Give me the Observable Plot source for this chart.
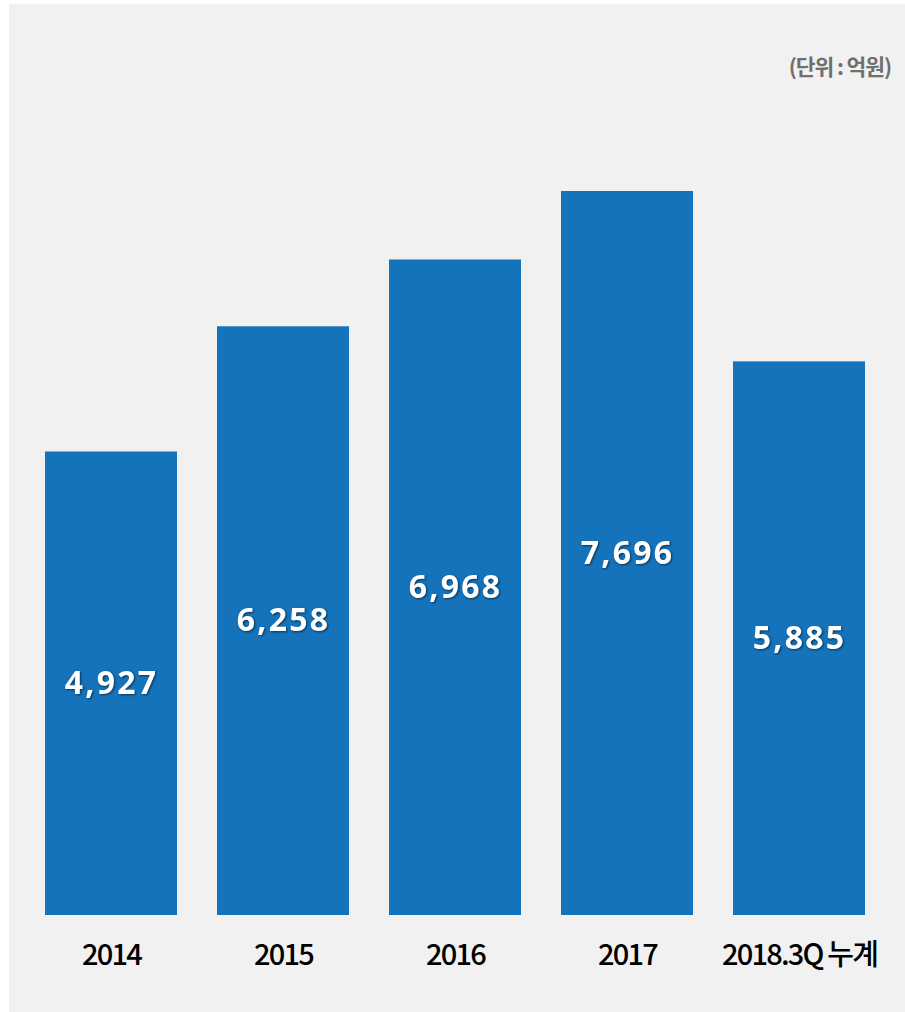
<!DOCTYPE html>
<html>
<head>
<meta charset="utf-8">
<script src="https://cdn.jsdelivr.net/npm/d3@7"></script>
<script src="https://cdn.jsdelivr.net/npm/@observablehq/plot@0.6"></script>
<style>
  html, body { margin: 0; padding: 0; background: #ffffff; }
  #panel { position: absolute; left: 9px; top: 4px; width: 896px; height: 1008px; background: #f1f1f1; overflow: hidden; }
  #unit { position: relative; height: 90px; }
  #unit span { position: absolute; right: 14px; top: 46px; font-family: "Noto Sans CJK KR", "Noto Sans", sans-serif; font-weight: 700; font-size: 21.5px; letter-spacing: -1.1px; color: #6f6f6f; }
  #chart svg { display: block; }
  #chart g[aria-label="text"] text { filter: drop-shadow(1.5px 1.5px 1px rgba(0,0,0,0.55)); }
</style>
</head>
<body>
<div id="panel">
  <div id="unit"><span id="unitText"></span></div>
  <div id="chart"></div>
</div>
<script>
const categories = ["2014", "2015", "2016", "2017", "2018.3Q 누계"];
const values = [4927, 6258, 6968, 7696, 5885];
const unitLabel = "(단위 : 억원)";

document.getElementById("unitText").textContent = unitLabel;

const data = categories.map((c, i) => ({category: c, value: values[i]}));

const chart = Plot.plot({
  width: 896,
  height: 918,
  marginTop: 97,
  marginBottom: 97,
  marginLeft: 14.5,
  marginRight: 18.5,
  style: {background: "transparent", color: "#000000", fontFamily: "\"Noto Sans CJK KR\", \"Noto Sans\", sans-serif", fontSize: "29px"},
  x: {domain: categories, paddingInner: 0.23, paddingOuter: 0.115, label: null},
  y: {domain: [0, d3.max(values)], axis: null},
  marks: [
    Plot.axisX({tickSize: 0, tickPadding: 29, fontSize: 29, label: null, fill: "#000", fontWeight: 500}),
    Plot.barY(data, {x: "category", y: "value", fill: "#1473bb"}),
    Plot.text(data, {
      x: "category",
      y: d => d.value / 2,
      text: d => d3.format(",")(d.value),
      fill: "#ffffff",
      fontSize: 32,
      fontWeight: 700,
      fontFamily: "\"Noto Sans\", sans-serif"
    })
  ]
});
document.getElementById("chart").appendChild(chart);
d3.select(chart).selectAll('g[aria-label="x-axis tick label"] text').style("letter-spacing", "-1.8px");
d3.select(chart).selectAll('g[aria-label="text"] text').style("letter-spacing", "2.2px");
</script>
</body>
</html>
